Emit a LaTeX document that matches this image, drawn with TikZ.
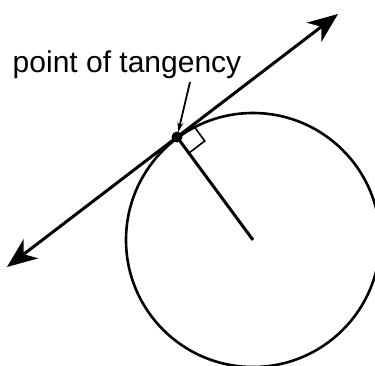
\documentclass[tikz,border=0pt]{standalone}
\usepackage{fontspec}
\setmainfont{Liberation Sans}
\usetikzlibrary{arrows.meta,calc}
\begin{document}
\begin{tikzpicture}[x=1pt,y=-1pt,
  tline/.style={line width=3pt,{Stealth[length=30pt,width=24pt,inset=9pt]}-{Stealth[length=30pt,width=24pt,inset=9pt]}},
  circ/.style={line width=2.6pt},
  rad/.style={line width=3pt},
  sq/.style={line width=1.6pt},
  ptr/.style={line width=1.8pt,-{Stealth[length=10pt,width=6pt]}},
  lbl/.style={font=\fontsize{30}{32}\selectfont,inner sep=0pt,anchor=base}]
\useasboundingbox (0,0) rectangle (375,365);
\clip (0,0) rectangle (375,365);
\coordinate (T) at (177,137);
\coordinate (C) at (253,240);
\coordinate (A) at (338,14);
\coordinate (B) at (7,267);
\draw[circ] (C) circle (127);
\draw[rad] (T) -- (C);
\draw[tline] (B) -- (A);
% right angle mark
\coordinate (u) at ($(T)!20pt!(A)$);
\coordinate (v) at ($(T)!20pt!(C)$);
\draw[sq] (u) -- ($(u)+(v)-(T)$) -- (v);
\fill (T) circle (5.5);
\node[lbl] (L) at (127,72) {point of tangency};
\coordinate (P) at (190,82);
\draw[ptr] (P) -- ($(T)!5pt!(P)$);
\end{tikzpicture}
\end{document}
